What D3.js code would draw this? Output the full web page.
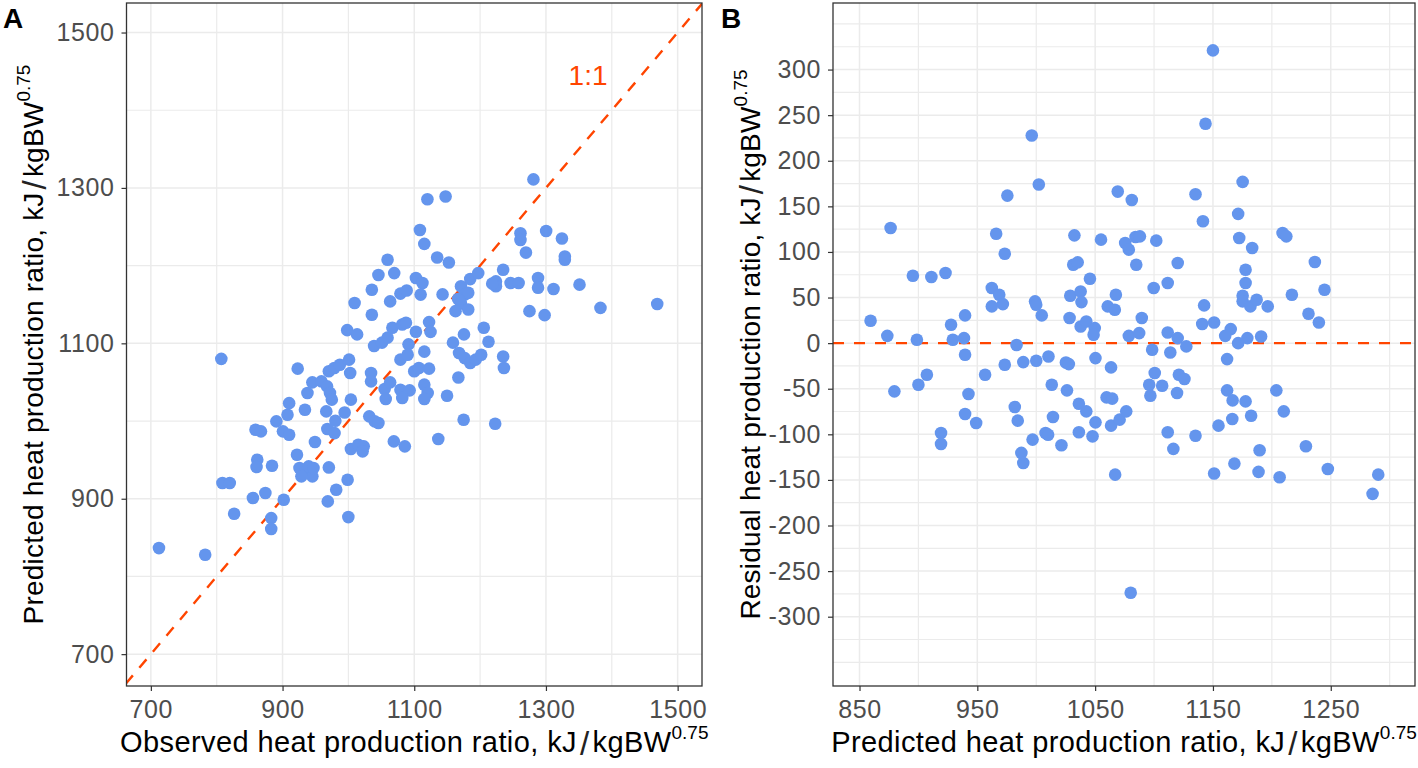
<!DOCTYPE html>
<html>
<head>
<meta charset="utf-8">
<script src="https://cdn.jsdelivr.net/npm/d3@7"></script>
<style>
  html, body { margin: 0; padding: 0; background: #ffffff; }
  svg { display: block; }
  text { font-family: "Liberation Sans", Arial, sans-serif; }
</style>
</head>
<body>
<svg id="chart" width="1418" height="768"></svg>
<script>
// ---------------- DATA ----------------
// Panel A: observed (x) vs predicted (y) heat production ratio
const observedA = [
  1281, 1120, 1147.6, 1108.6, 1115.3, 1134.8, 1152.6, 1059.5, 1045.6, 1069.6,
  1102.5, 1112.5, 1109.7, 1079, 1088.5, 1035.6, 1063.4, 1009.4, 1035.6, 1143,
  1171, 1185, 1197.2, 1176.6, 1182, 1166.6, 1171, 1162.7, 1182, 1261.3,
  1261.3, 1269.6, 1300.3, 1324.3, 1328.7, 1328.7, 1224, 1235, 1224, 1246.3,
  1258.5, 1218.4, 1288, 1288, 1311.5, 1351, 1275, 1298, 1382.8, 1469,
  998.2, 1013.2, 1039, 1051, 1059.5, 1066.8, 1081.8, 1087.4, 1102.5, 1122.5,
  1124.7, 1091.3, 1115.3, 1158.8, 1175.5, 1205.6, 1212.8, 1235, 807, 923,
  970.3, 978.6, 987, 1001, 1002.7, 1034.4, 1034.4, 1079, 1090, 1100,
  1107, 1122.5, 1167, 1168, 1176.6, 1185, 1193.3, 1201.7, 1236.2, 945.2,
  959, 967.6, 972, 974.8, 937.8, 910, 907.5, 934, 966.4, 994.3,
  1003.8, 980.2, 968, 979, 890.6, 900.6, 910, 858.9, 867.2, 949.2,
  1031.7, 1040, 1045.6, 1055, 1063.4, 1079, 1093, 1056.7, 1081.8, 1115.3,
  1120.4, 1115.3, 1149.8, 1175, 1222.9, 1136.5, 1069, 1085.7, 1003.8, 1015,
  1023.3, 1021.6, 921.9, 861.6, 860.5, 884, 925.7, 933, 945.3, 939.7,
  947, 928.6, 970.3, 998.8, 981.5, 968.7, 999.9, 808.7, 819.8, 873.9,
  855, 901.8, 826.5, 882.8, 882.8, 712.3, 782.5
];
const predictedA = [
  1311, 1285.5, 1289, 1245.8, 1228, 1210.4, 1204, 1207.5, 1188, 1190.4,
  1184, 1177.6, 1162.7, 1164, 1168, 1169, 1154, 1152, 1136.7, 1163,
  1173.4, 1182.7, 1190.4, 1162.7, 1165, 1157.1, 1151.2, 1141.4, 1143.5, 1241.6,
  1233, 1216.8, 1244.6, 1235, 1211.7, 1207.5, 1179.7, 1194.7, 1173.4, 1177.6,
  1177.6, 1176.8, 1184, 1171.6, 1170, 1175.5, 1141.4, 1136.3, 1145.6, 1150.7,
  1117, 1111.5, 1096.5, 1100.9, 1107.3, 1120, 1124.3, 1126.4, 1115, 1127.3,
  1114.7, 1098.7, 1089.3, 1100.9, 1111.5, 1120, 1102, 1083, 1080, 1067.4,
  1064, 1068.2, 1072.5, 1079, 1061.8, 1061.8, 1051, 1079, 1085.4, 1064,
  1068.2, 1067.4, 1056, 1087.6, 1081, 1074.7, 1079, 1085.4, 1068.2, 1049.8,
  1051, 1044.6, 1036, 1027.5, 1036, 1023, 1008, 1014.6, 1012.4, 1011,
  1027.5, 1000.4, 989.7, 984.5, 999.6, 986.7, 982.4, 988.8, 986.7, 973,
  1006, 999.6, 997.4, 1041.2, 1049.8, 1040.3, 1039.5, 1028.3, 1029.6, 1046.8,
  1036, 1028.3, 1032.6, 1001.7, 996.6, 976.8, 973.8, 967.4, 964, 969.5,
  967.4, 961, 956.7, 950.2, 940.8, 942.5, 939.5, 933.9, 928.8, 941.6,
  939.5, 928.8, 940.3, 924.5, 911.6, 896.6, 876.4, 920.2, 920.2, 907.3,
  900.9, 898.7, 880.7, 875.1, 861, 836.5, 827.9
];
// Panel B: predicted (x) vs residual (y)
const predictedB = [
  1150, 1143.7, 996.2, 1002.2, 975.5, 1069.2, 1081.1, 1135.2, 1175.2, 1141.5,
  1171.4, 876.4, 966, 973.3, 1032.4, 1055, 1075.5, 1078.6, 1084.3, 1088,
  1101.9, 1084.9, 1120.1, 1172.3, 1183.3, 1209.1, 1212.3, 1236.5, 1177.7, 1177.7,
  1175.2, 1175.2, 1181.8, 1187.1, 1196.5, 1217, 1244.7, 1231.1, 1239.9, 895.3,
  911, 923, 859.4, 873.6, 898.7, 927.7, 939.6, 929.2, 938.7, 962.3,
  968.6, 971.7, 962.3, 999, 1000, 1004.7, 1031.4, 1035.2, 1028.9, 1037.7,
  1038.4, 1045.6, 1028.3, 1037.7, 1042.5, 1049.7, 1048.7, 1060.7, 1066.7, 1067.6,
  1089.6, 1078.6, 1087.4, 1099.7, 1111.6, 1111.6, 1120.1, 1127.4, 1142.5, 1140.9,
  1151, 1165.1, 1160.4, 1171.4, 1179.2, 1190.9, 983.3, 939.6, 973.3, 989,
  1000, 1010.4, 1025.2, 1027.7, 1050.3, 1063.5, 1098.4, 1113.8, 1162, 907.2,
  900, 879.6, 956.6, 942.5, 939.6, 949, 919.2, 919.2, 981.8, 984.3,
  987.4, 989, 996.9, 1007.9, 1010.1, 1014.2, 1013.2, 1026.1, 1021.4, 1036.2,
  1042.5, 1050.3, 1036.2, 1047.8, 1059.7, 1064.5, 1063.5, 1070.8, 1076.4, 1067,
  1080.2, 1100.6, 1095.9, 1106.9, 1096.9, 1121.1, 1125.8, 1119.5, 1111.6, 1116.4,
  1135.2, 1162, 1166.7, 1177.7, 1166.4, 1154.7, 1182.4, 1203.8, 1210.1, 1151,
  1168.2, 1189.6, 1188.7, 1206.6, 1228.9, 1247.5, 1290.3, 1285.5
];
const residualB = [
  321, 240.5, 227.7, 173.9, 161.8, 166.2, 157, 163.3, 176.8, 133.6,
  141.7, 126.3, 120, 98.1, 118.2, 113.5, 109.8, 102.5, 116.4, 117.1,
  112.4, 86, 87.8, 115.3, 104.3, 120.8, 117.1, 88.9, 80.5, 65.9,
  52, 45.8, 40.3, 47.6, 40.3, 53.1, 58.6, 32.2, 22.7, 73.9,
  72.5, 76.9, 24.5, 8, 3.7, 20.1, 30.4, 3.7, 5.5, 60.4,
  53.1, 42.8, 40.3, 45.8, 42.1, 30.4, 86, 88.6, 52, 56.7,
  45, 70.6, 27.5, 18.3, 23.8, 16.5, 9.2, 40.3, 36.6, 53.1,
  27.5, 8, 11, 60.4, 65.9, 11.7, 5.5, -3.6, 41.4, 20.9,
  22.7, 15.4, 8, 0, 5.5, 7.3, -2, -12.8, -23.7, -20.8,
  -19.3, -14.6, -21.2, -23, -16.4, -26.6, -7.3, -10.2, -17.5, -34.7,
  -45.6, -52.9, -34.7, -55.8, -77.7, -87.6, -98.5, -110.6, -70, -85,
  -120.4, -131.4, -105.8, -98.5, -100.4, -81, -45.6, -51.8, -112, -66.4,
  -74.8, -86.9, -97.8, -102.2, -59.5, -60.9, -90.5, -83.9, -74.8, -144.2,
  -273.7, -32.8, -45.6, -46.7, -57.7, -34.7, -39.4, -54.7, -97.8, -116,
  -101.5, -51.8, -62.8, -63.9, -83.2, -90.5, -79.6, -51.8, -74.8, -143,
  -132.1, -117.5, -141.2, -147.1, -113.1, -138, -144.2, -165.3
];

// Axis ticks / grids
const ticksA = [700, 900, 1100, 1300, 1500];
const gridA = [700, 800, 900, 1000, 1100, 1200, 1300, 1400, 1500];
const ticksBx = [850, 950, 1050, 1150, 1250];
const gridBx = [850, 900, 950, 1000, 1050, 1100, 1150, 1200, 1250, 1300];
const ticksBy = [-300, -250, -200, -150, -100, -50, 0, 50, 100, 150, 200, 250, 300];
const gridBy = [-350, -325, -300, -275, -250, -225, -200, -175, -150, -125, -100, -75, -50, -25,
                0, 25, 50, 75, 100, 125, 150, 175, 200, 225, 250, 275, 300, 325, 350];
const oneToOneLabel = { text: "1:1", x: 1364, y: 1445 };
const titles = {
  ax: "Observed heat production ratio, kJ",
  ay: "Predicted heat production ratio, kJ",
  bx: "Predicted heat production ratio, kJ",
  by: "Residual heat production ratio, kJ",
  unit: "kgBW",
  sup: "0.75"
};

// ---------------- DRAW ----------------
const svg = d3.select("#chart");
const POINT = "#6495ED", LINE = "#FF4500", GRID = "#EBEBEB", BORDER = "#333333", TICKTXT = "#4D4D4D";

function panel(cfg) {
  const g = svg.append("g");
  const {x, y, L, R, T, B} = cfg;
  const clipId = "clip" + cfg.id;
  svg.append("clipPath").attr("id", clipId)
    .append("rect").attr("x", L).attr("y", T).attr("width", R - L).attr("height", B - T);

  const grid = g.append("g").attr("clip-path", `url(#${clipId})`);
  grid.selectAll(".gx").data(cfg.gridX).join("line")
    .attr("x1", d => x(d)).attr("x2", d => x(d)).attr("y1", T).attr("y2", B)
    .attr("stroke", GRID).attr("stroke-width", d => cfg.ticksX.includes(d) ? 1.5 : 1.2);
  grid.selectAll(".gy").data(cfg.gridY).join("line")
    .attr("y1", d => y(d)).attr("y2", d => y(d)).attr("x1", L).attr("x2", R)
    .attr("stroke", GRID).attr("stroke-width", d => cfg.ticksY.includes(d) ? 1.5 : 1.2);

  const plot = g.append("g").attr("clip-path", `url(#${clipId})`);
  cfg.drawRef(plot);

  plot.selectAll("circle").data(cfg.xs.map((v, i) => [v, cfg.ys[i]])).join("circle")
    .attr("cx", d => x(d[0])).attr("cy", d => y(d[1])).attr("r", 6.3)
    .attr("fill", POINT);

  g.append("rect").attr("x", L).attr("y", T).attr("width", R - L).attr("height", B - T)
    .attr("fill", "none").attr("stroke", BORDER).attr("stroke-width", 1.3);

  const ax = g.append("g").attr("transform", `translate(0,${B})`)
    .call(d3.axisBottom(x).tickValues(cfg.ticksX).tickSize(5).tickPadding(9).tickFormat(d3.format("d")));
  const ay = g.append("g").attr("transform", `translate(${L},0)`)
    .call(d3.axisLeft(y).tickValues(cfg.ticksY).tickSize(5).tickPadding(7).tickFormat(d3.format("d")));
  [ax, ay].forEach(a => {
    a.select(".domain").remove();
    a.selectAll(".tick line").attr("stroke", BORDER).attr("stroke-width", 1.2);
    a.selectAll(".tick text").attr("fill", TICKTXT).attr("font-size", 25)
      .attr("letter-spacing", 0.6)
      .attr("font-family", '"Liberation Sans", Arial, sans-serif');
  });
  ay.selectAll(".tick text").text(d => d < 0 ? "-" + Math.abs(d) : d);
  return g;
}

function unitTitle(sel, main, supSize, supRaise) {
  sel.append("tspan").text(main);
  sel.append("tspan").attr("dx", 3).attr("font-size", 33).attr("dy", 3).attr("fill", "#222")
    .attr("font-weight", "normal").text("/");
  sel.append("tspan").attr("dx", 3).attr("dy", -3).text(titles.unit);
  sel.append("tspan").attr("font-size", supSize).attr("dy", -supRaise).attr("letter-spacing", 0).text(titles.sup);
}

// Panel A
const A = {L: 126.5, R: 702, T: 3, B: 686};
const xA = d3.scaleLinear().domain([663, 1537]).range([A.L, A.R]);
const yA = d3.scaleLinear().domain([659, 1538]).range([A.B, A.T]);
panel({
  id: "A", x: xA, y: yA, ...A,
  gridX: gridA, gridY: gridA, ticksX: ticksA, ticksY: ticksA,
  xs: observedA, ys: predictedA,
  drawRef: p => {
    p.append("line")
      .attr("x1", xA(600)).attr("y1", yA(600)).attr("x2", xA(1600)).attr("y2", yA(1600))
      .attr("stroke", LINE).attr("stroke-width", 2.4).attr("stroke-dasharray", "11,10");
  }
});
svg.append("text").attr("x", xA(oneToOneLabel.x)).attr("y", yA(oneToOneLabel.y))
  .attr("text-anchor", "middle").attr("dominant-baseline", "central")
  .attr("font-size", 28).attr("fill", LINE).text(oneToOneLabel.text);

// Panel B
const Bp = {L: 833, R: 1415, T: 3, B: 686};
const xB = d3.scaleLinear().domain([827.5, 1321.5]).range([Bp.L, Bp.R]);
const yB = d3.scaleLinear().domain([-376, 373]).range([Bp.B, Bp.T]);
panel({
  id: "B", x: xB, y: yB, ...Bp,
  gridX: gridBx, gridY: gridBy, ticksX: ticksBx, ticksY: ticksBy,
  xs: predictedB, ys: residualB,
  drawRef: p => {
    p.append("line")
      .attr("x1", Bp.L).attr("x2", Bp.R).attr("y1", yB(0)).attr("y2", yB(0))
      .attr("stroke", LINE).attr("stroke-width", 2.4).attr("stroke-dasharray", "11,10");
  }
});

// Axis titles
const tAx = svg.append("text").attr("x", (A.L + A.R) / 2).attr("y", 752)
  .attr("text-anchor", "middle").attr("font-size", 29).attr("letter-spacing", 0.4).attr("fill", "#000");
unitTitle(tAx, titles.ax, 19, 13);
const tBx = svg.append("text").attr("x", (Bp.L + Bp.R) / 2).attr("y", 752)
  .attr("text-anchor", "middle").attr("font-size", 29).attr("letter-spacing", 0.4).attr("fill", "#000");
unitTitle(tBx, titles.bx, 19, 13);
const tAy = svg.append("text")
  .attr("transform", `translate(43,${(A.T + A.B) / 2}) rotate(-90)`)
  .attr("text-anchor", "middle").attr("font-size", 28).attr("letter-spacing", 0.2).attr("fill", "#000");
unitTitle(tAy, titles.ay, 19, 13);
const tBy = svg.append("text")
  .attr("transform", `translate(760,${(Bp.T + Bp.B) / 2}) rotate(-90)`)
  .attr("text-anchor", "middle").attr("font-size", 28).attr("letter-spacing", 0.2).attr("fill", "#000");
unitTitle(tBy, titles.by, 19, 13);

// Panel tags
svg.append("text").attr("x", 3).attr("y", 28).attr("font-size", 28).attr("font-weight", "bold")
  .attr("font-family", '"Liberation Sans", Arial, sans-serif').text("A");
svg.append("text").attr("x", 721).attr("y", 28).attr("font-size", 28).attr("font-weight", "bold")
  .attr("font-family", '"Liberation Sans", Arial, sans-serif').text("B");
</script>
</body>
</html>
